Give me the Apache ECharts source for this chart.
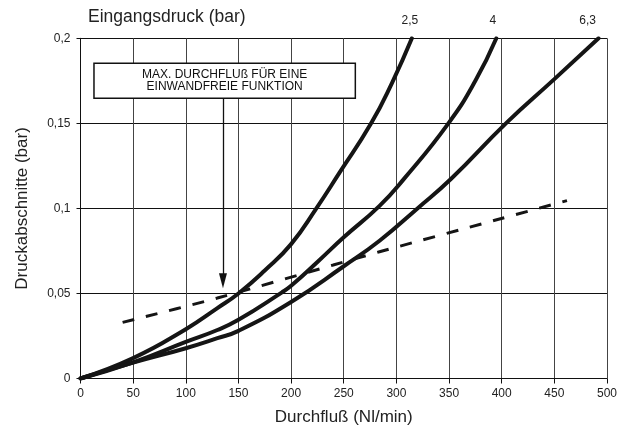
<!DOCTYPE html>
<html>
<head>
<meta charset="utf-8">
<script src="https://cdn.jsdelivr.net/npm/echarts@6/dist/echarts.min.js"></script>
<style>
html,body{margin:0;padding:0;background:#fff;}
#main{width:620px;height:432px;}
</style>
</head>
<body>
<div id="main"></div>
<script>
// Pressure drop curves (x: flow Nl/min, y: pressure drop bar)
const flow25 = [0, 50, 100, 130, 150, 175, 200, 224, 246, 276, 296, 314.7];
const drop25 = [0, 0.012, 0.029, 0.0414, 0.05, 0.0635, 0.079, 0.1, 0.121, 0.15, 0.174, 0.2];

const flow4 = [0, 50, 100, 130, 150, 191, 200, 225, 250, 284, 307, 349.4, 375, 394.9];
const drop4 = [0, 0.0095, 0.0215, 0.0285, 0.0345, 0.0505, 0.0545, 0.0685, 0.083, 0.1015, 0.1172, 0.15, 0.175, 0.2];

const flow63 = [0, 50, 100, 130, 150, 200, 250, 284, 320, 352, 404, 450, 492];
const drop63 = [0, 0.0093, 0.0178, 0.0237, 0.028, 0.045, 0.066, 0.081, 0.1, 0.1174, 0.15, 0.176, 0.2];

// Max flow line for proper function (dashed)
const flowMax = [40, 130, 240, 284, 397, 462];
const dropMax = [0.033, 0.0473, 0.0667, 0.0745, 0.0936, 0.1046];

const curveNames = ['2,5', '4', '6,3'];
const xTicks = [0, 50, 100, 150, 200, 250, 300, 350, 400, 450, 500];
const yTicks = [0, 0.05, 0.1, 0.15, 0.2];

const titleText = 'Eingangsdruck (bar)';
const xName = 'Durchfluß (Nl/min)';
const yName = 'Druckabschnitte (bar)';
const boxText = 'MAX. DURCHFLUß FÜR EINE\nEINWANDFREIE FUNKTION';

const FONT = 'Liberation Sans, Arial, sans-serif';
const labelOffsets = [[-2, 0], [-3.5, 0], [-11, 0]];

function pairs(xs, ys, idx) {
  return xs.map((x, i) => {
    const item = { value: [x, ys[i]] };
    if (i === xs.length - 1) {
      item.label = {
        show: true, position: 'top', distance: 12,
        offset: labelOffsets[idx],
        formatter: curveNames[idx],
        fontSize: 12, color: '#222', fontFamily: FONT
      };
    }
    return item;
  });
}

const curveSeries = [[flow25, drop25], [flow4, drop4], [flow63, drop63]].map((d, idx) => ({
  type: 'line',
  name: curveNames[idx],
  data: pairs(d[0], d[1], idx),
  smooth: 0.5,
  showSymbol: true,
  symbol: 'circle',
  symbolSize: 0,
  silent: true,
  z: 3,
  lineStyle: { color: '#151515', width: 4, cap: 'round' },
  itemStyle: { color: '#151515' },
  label: { show: false }
}));

const chart = echarts.init(document.getElementById('main'), null, { renderer: 'canvas' });
chart.setOption({
  animation: false,
  backgroundColor: '#fff',
  title: {
    text: titleText, left: 88, top: 8, padding: 0,
    textStyle: { fontSize: 17.5, fontWeight: 'normal', color: '#222', fontFamily: FONT }
  },
  grid: { left: 80.5, right: 11.7, top: 38.3, bottom: 53.5 },
  xAxis: {
    type: 'value', min: xTicks[0], max: xTicks[xTicks.length - 1], interval: 50,
    name: xName, nameLocation: 'middle', nameGap: 30,
    nameTextStyle: { fontSize: 17, color: '#222', fontFamily: FONT },
    axisLine: { show: true, lineStyle: { color: '#111', width: 1 } },
    axisTick: { show: true, length: 5, lineStyle: { color: '#111' } },
    axisLabel: { fontSize: 12, color: '#222', margin: 9, fontFamily: FONT },
    splitLine: { show: true, lineStyle: { color: '#444', width: 1 } }
  },
  yAxis: {
    type: 'value', min: yTicks[0], max: yTicks[yTicks.length - 1], interval: 0.05,
    name: yName, nameLocation: 'middle', nameGap: 50, nameRotate: 90,
    nameTextStyle: { fontSize: 17, color: '#222', fontFamily: FONT },
    axisLine: { show: true, lineStyle: { color: '#111', width: 1 } },
    axisTick: { show: true, length: 4, lineStyle: { color: '#111' } },
    axisLabel: {
      fontSize: 12, color: '#222', margin: 10, fontFamily: FONT,
      formatter: v => String(+v.toFixed(2)).replace('.', ',')
    },
    splitLine: { show: true, lineStyle: { color: '#111', width: 1 } }
  },
  series: [
    {
      type: 'line',
      name: 'max',
      data: flowMax.map((x, i) => [x, dropMax[i]]),
      smooth: 0.3,
      showSymbol: false,
      silent: true,
      z: 2,
      lineStyle: { color: '#151515', width: 3, type: [12, 12] },
      markArea: {
        silent: true,
        itemStyle: { color: '#fff', borderColor: '#111', borderWidth: 1.5 },
        label: {
          show: true, position: 'inside', formatter: boxText,
          fontSize: 12, lineHeight: 12, color: '#111', fontFamily: FONT
        },
        data: [[{ coord: [12.8, 0.1853] }, { coord: [261, 0.1648] }]]
      },
      markLine: {
        silent: true,
        symbol: ['none', 'triangle'],
        symbolSize: [8, 15],
        label: { show: false },
        lineStyle: { color: '#111', width: 1.3, type: 'solid' },
        data: [[{ coord: [135.3, 0.1648] }, { coord: [135.3, 0.0574] }]]
      }
    },
    ...curveSeries
  ]
});
</script>
</body>
</html>
